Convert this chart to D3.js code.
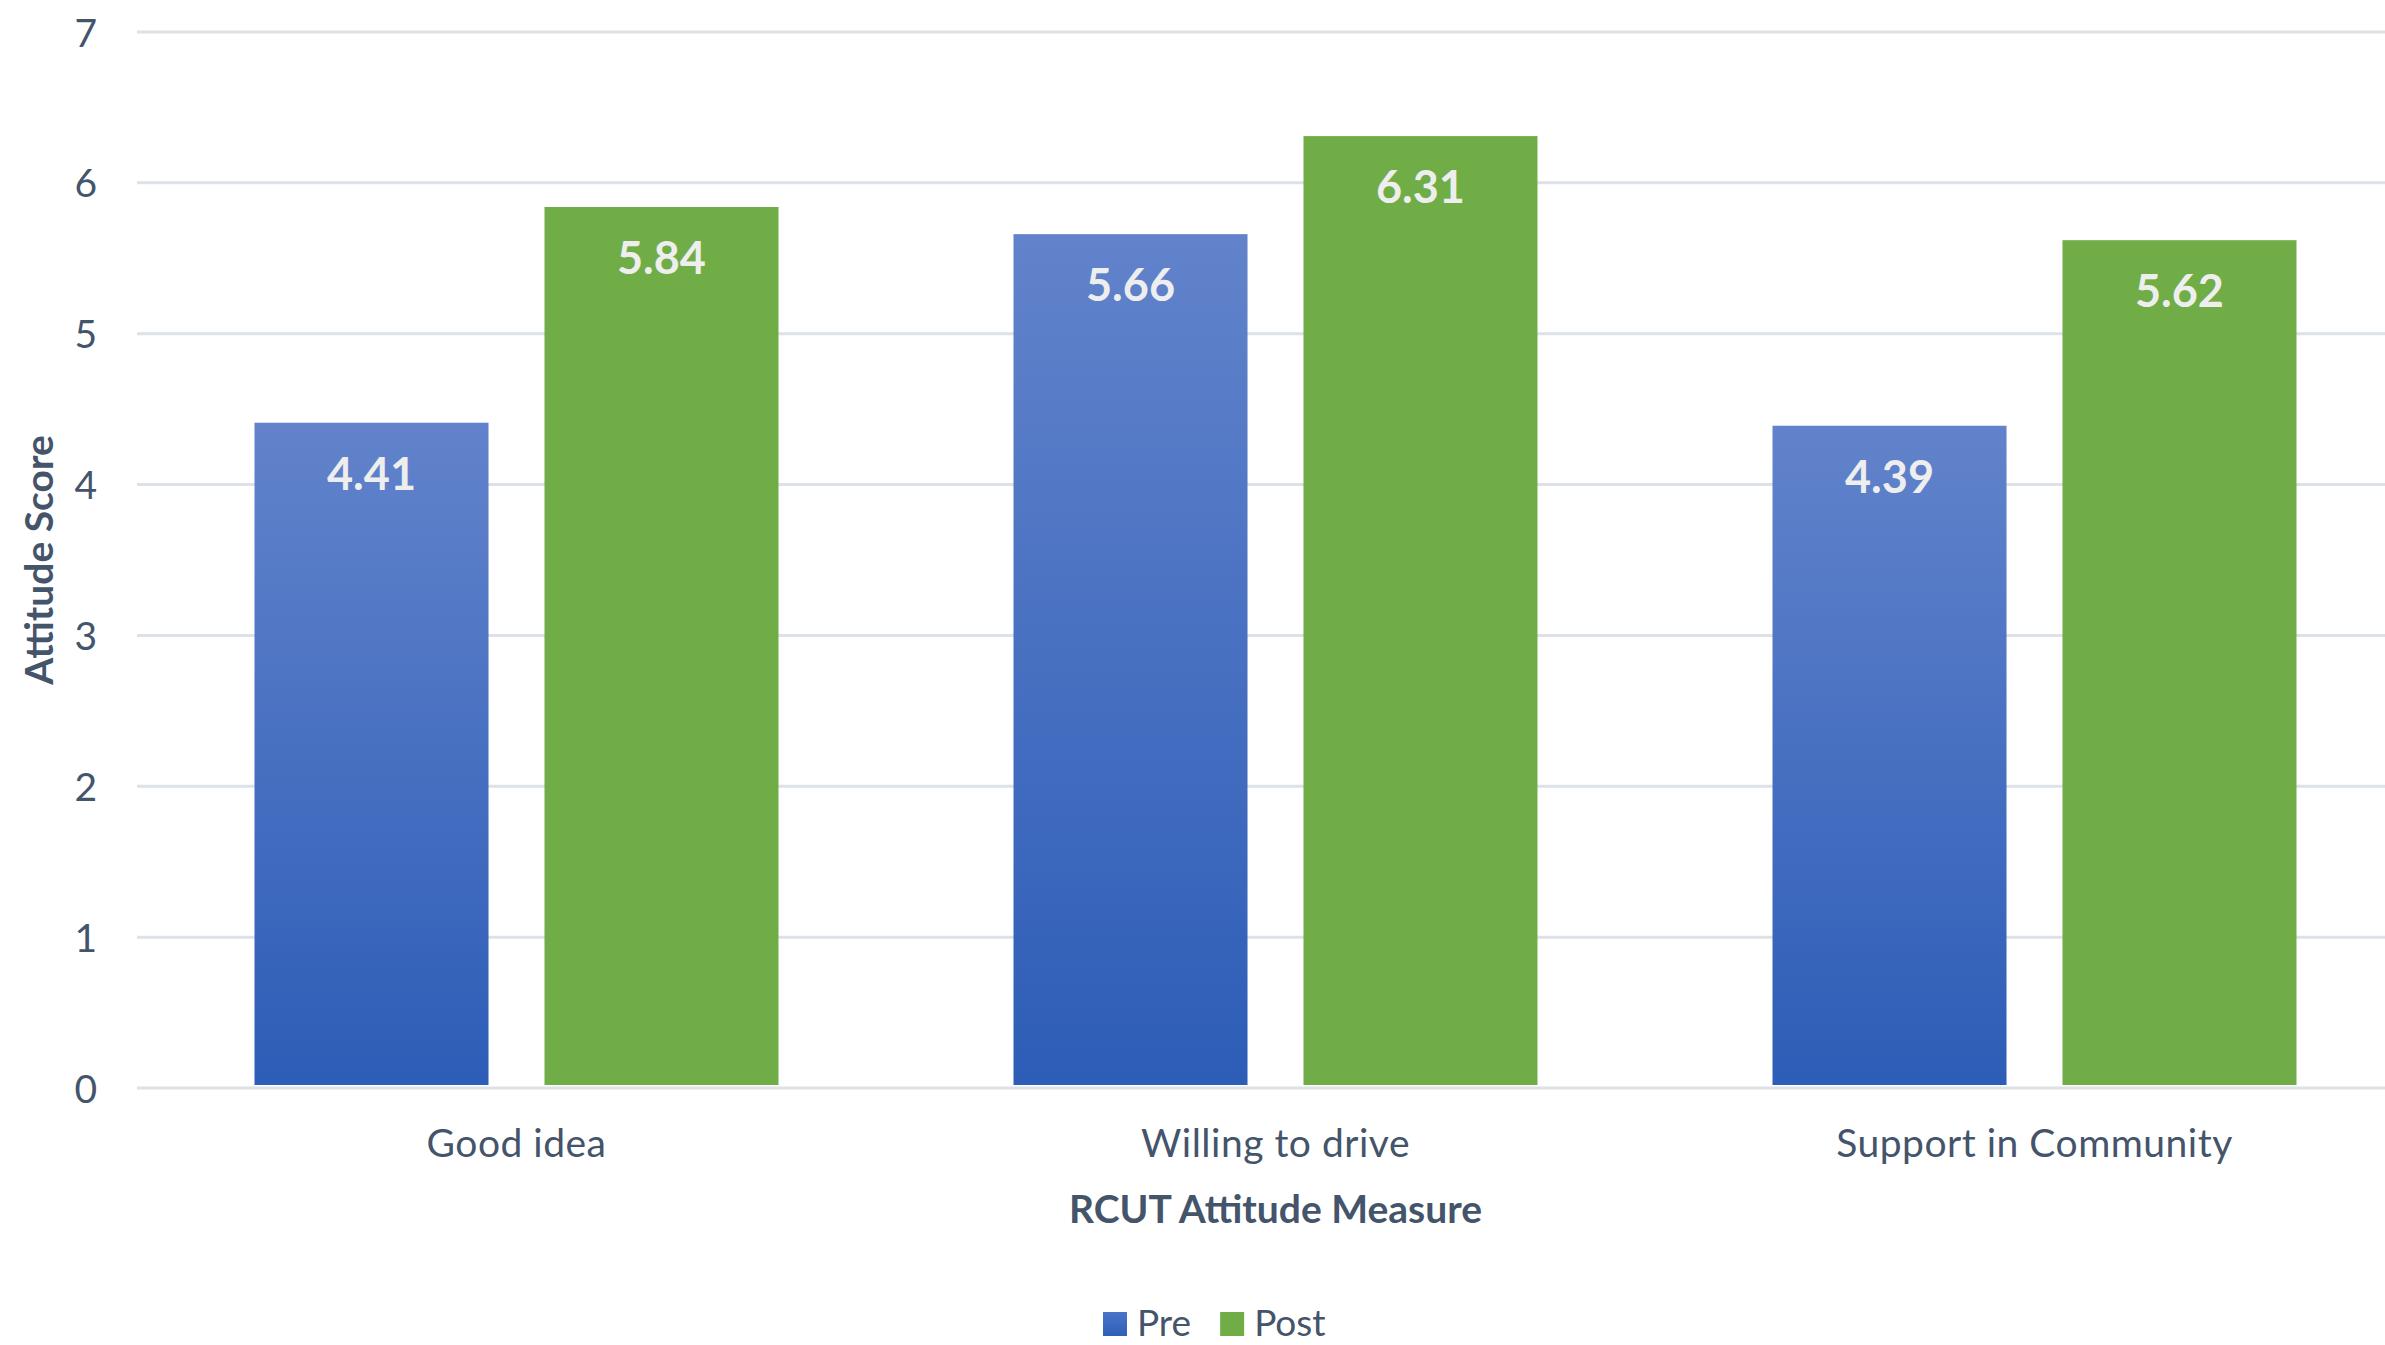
<!DOCTYPE html>
<html>
<head>
<meta charset="utf-8">
<script src="https://cdn.jsdelivr.net/npm/d3@7"></script>
<style>
  html, body { margin: 0; padding: 0; background: #ffffff; }
  svg { display: block; }
</style>
</head>
<body>
<svg id="chart" width="2385" height="1345"></svg>
<script>
// ---- data ----
const categories = ["Good idea", "Willing to drive", "Support in Community"];
const seriesNames = ["Pre", "Post"];
const preValues = [4.41, 5.66, 4.39];
const postValues = [5.84, 6.31, 5.62];
const yTicks = [0, 1, 2, 3, 4, 5, 6, 7];
const xAxisTitle = "RCUT Attitude Measure";
const yAxisTitle = "Attitude Score";

const seriesValues = { Pre: preValues, Post: postValues };

// ---- layout ----
const W = 2385, H = 1345;
const plot = { left: 137, right: 2414, top: 32, bottom: 1088 };
const textColor = "#44546A";
const gridColor = "#DDE1E8";
const font = "Lato, 'Open Sans', sans-serif";

const svg = d3.select("#chart");

const defs = svg.append("defs");
const grad = defs.append("linearGradient")
  .attr("id", "preGrad").attr("x1", 0).attr("y1", 0).attr("x2", 0).attr("y2", 1);
grad.append("stop").attr("offset", "0%").attr("stop-color", "#6283CB");
grad.append("stop").attr("offset", "100%").attr("stop-color", "#2D5DB7");
const gradL = defs.append("linearGradient")
  .attr("id", "preGradLegend").attr("x1", 0).attr("y1", 0).attr("x2", 0).attr("y2", 1);
gradL.append("stop").attr("offset", "0%").attr("stop-color", "#4A74C8");
gradL.append("stop").attr("offset", "100%").attr("stop-color", "#2F5FB8");

const colors = { Pre: "url(#preGrad)", Post: "#70AD47" };
const legendColors = { Pre: "url(#preGradLegend)", Post: "#70AD47" };

const y = d3.scaleLinear().domain([0, 7]).range([plot.bottom, plot.top]);
const x0 = d3.scaleBand().domain(categories).range([plot.left, plot.right]).paddingInner(0).paddingOuter(0);
const groupPad = 117.5;
const x1 = d3.scaleBand().domain(seriesNames)
  .range([groupPad, x0.bandwidth() - groupPad])
  .paddingInner(0.193).paddingOuter(0);

// gridlines
svg.append("g").selectAll("line").data(yTicks).join("line")
  .attr("x1", plot.left).attr("x2", W)
  .attr("y1", d => y(d)).attr("y2", d => y(d))
  .attr("stroke", gridColor).attr("stroke-width", 3);

// y tick labels via axis
const yAxis = d3.axisLeft(y).tickValues(yTicks).tickSize(0).tickPadding(0).tickFormat(d3.format("d"));
const yAxisG = svg.append("g").attr("transform", `translate(97,0)`).call(yAxis);
yAxisG.select(".domain").remove();
yAxisG.selectAll("text")
  .attr("fill", textColor).style("font-family", font).style("font-size", "39px")
  .attr("dy", "0.36em");

// bars
const groups = svg.append("g").selectAll("g").data(categories).join("g")
  .attr("transform", d => `translate(${x0(d)},0)`);

groups.each(function(cat, i) {
  const g = d3.select(this);
  seriesNames.forEach(s => {
    const v = seriesValues[s][i];
    g.append("rect")
      .attr("x", x1(s)).attr("width", x1.bandwidth())
      .attr("y", y(v)).attr("height", y(0) - y(v) - 3)
      .attr("fill", colors[s]);
    g.append("text")
      .attr("x", x1(s) + x1.bandwidth() / 2)
      .attr("y", y(v) + 67)
      .attr("text-anchor", "middle")
      .attr("fill", "#EEEEEE")
      .style("font-family", font).style("font-weight", "bold").style("font-size", "45px")
      .text(v.toFixed(2));
  });
});

// x category labels via axis
const xAxis = d3.axisBottom(x0).tickSize(0).tickPadding(0);
const xAxisG = svg.append("g").attr("transform", `translate(0,1157)`).call(xAxis);
xAxisG.select(".domain").remove();
xAxisG.selectAll("text")
  .attr("fill", textColor).style("font-family", font).style("font-size", "39px")
  .attr("dy", 0).attr("y", 0).style("letter-spacing", "0.5px");

// axis titles
svg.append("text")
  .attr("x", (plot.left + plot.right) / 2).attr("y", 1223)
  .attr("text-anchor", "middle").attr("fill", textColor)
  .style("font-family", font).style("font-weight", "bold").style("font-size", "39px")
  .text(xAxisTitle);

svg.append("text")
  .attr("transform", `translate(53,${(plot.top + plot.bottom) / 2}) rotate(-90)`)
  .attr("text-anchor", "middle").attr("fill", textColor)
  .style("font-family", font).style("font-weight", "bold").style("font-size", "39px")
  .text(yAxisTitle);

// legend
const legend = svg.append("g").attr("transform", "translate(1103,1336)");
let lx = 0;
seriesNames.forEach(s => {
  legend.append("rect").attr("x", lx).attr("y", -24).attr("width", 24).attr("height", 24)
    .attr("fill", legendColors[s]);
  const t = legend.append("text").attr("x", lx + 34).attr("y", 0)
    .attr("fill", textColor).style("font-family", font).style("font-size", "37px")
    .text(s);
  lx += 34 + t.node().getComputedTextLength() + 29;
});
</script>
</body>
</html>
